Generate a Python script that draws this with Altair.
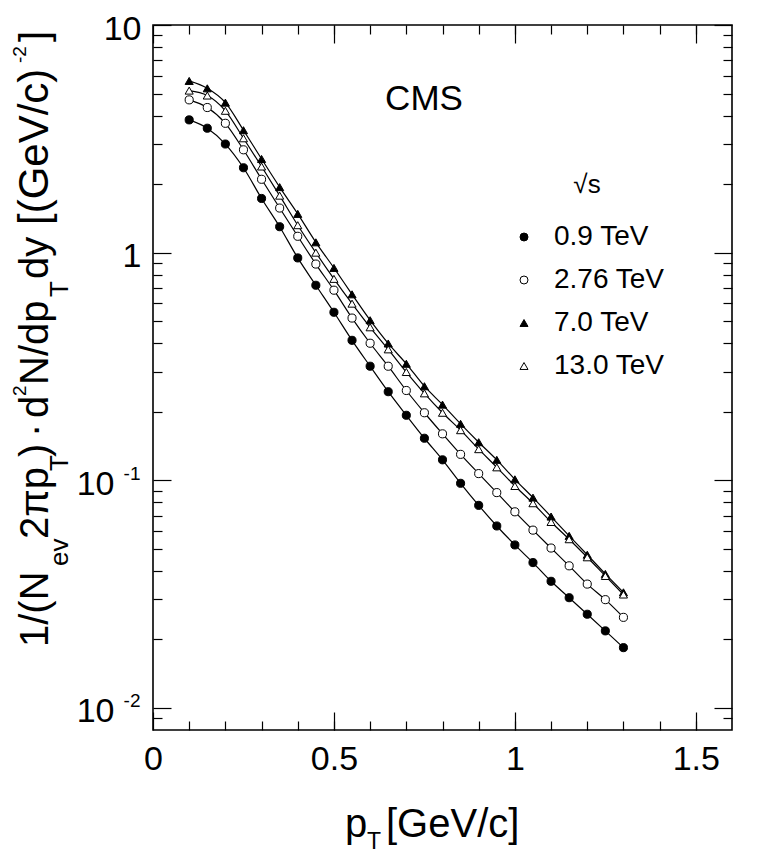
import altair as alt
import pandas as pd

# ---------------- data ----------------
pt = [0.10, 0.15, 0.20, 0.25, 0.30, 0.35, 0.40, 0.45, 0.50, 0.55, 0.60, 0.65,
      0.70, 0.75, 0.80, 0.85, 0.90, 0.95, 1.00, 1.05, 1.10, 1.15, 1.20, 1.25, 1.30]
energies = ["0.9 TeV", "2.76 TeV", "7.0 TeV", "13.0 TeV"]
y_09 = [3.83, 3.52, 3.00, 2.36, 1.73, 1.30, 0.948, 0.719, 0.547, 0.412, 0.317, 0.245,
        0.193, 0.153, 0.123, 0.097, 0.0776, 0.063, 0.052, 0.0435, 0.0360, 0.0305,
        0.0258, 0.0218, 0.0184]
y_276 = [4.69, 4.34, 3.70, 2.83, 2.10, 1.57, 1.18, 0.891, 0.684, 0.516, 0.400, 0.317,
         0.248, 0.198, 0.160, 0.130, 0.107, 0.0883, 0.0727, 0.0604, 0.0504, 0.0421,
         0.0350, 0.0299, 0.0250]
y_70 = [5.68, 5.27, 4.56, 3.45, 2.58, 1.94, 1.48, 1.11, 0.857, 0.656, 0.505, 0.399,
        0.325, 0.259, 0.215, 0.177, 0.147, 0.123, 0.101, 0.0839, 0.0693, 0.0570,
        0.0471, 0.0388, 0.0322]
y_130 = [5.15, 4.90, 4.20, 3.18, 2.39, 1.78, 1.32, 1.00, 0.767, 0.597, 0.470, 0.376,
         0.299, 0.241, 0.198, 0.166, 0.137, 0.114, 0.0944, 0.0793, 0.0656, 0.0551,
         0.0459, 0.0380, 0.0315]
series = [y_09, y_276, y_70, y_130]

x_major = [0, 0.5, 1.0, 1.5]
x_minor = [round(0.1 * i, 1) for i in range(1, 16)]
y_major = [0.01, 0.1, 1, 10]
y_minor = ([0.009] + [round(0.01 * k, 2) for k in range(2, 10)]
           + [round(0.1 * k, 1) for k in range(2, 10)] + list(range(2, 10)))

rows = []
for e, ys in zip(energies, series):
    for x, y in zip(pt, ys):
        rows.append({"pT": x, "val": y, "energy": e})
df = pd.DataFrame(rows)

# ---------------- styling / layout ----------------
FONT = "Liberation Sans"
OX, OY = 153, 25           # page position of the plot origin
W_PLOT, H_PLOT = 579, 705
MAJ, MIN = 18, 9

xs = alt.Scale(domain=[0, 1.6], nice=False, zero=False)
ys_ = alt.Scale(type="log", domain=[0.008, 10], nice=False)


def tick_axis(orient, values, size):
    return alt.Axis(orient=orient, values=values, domain=False, grid=False,
                    ticks=True, tickSize=size, offset=-size, labels=False,
                    tickColor="black", tickWidth=1.2, title=None)


def label_axis(orient, values, pad, expr, fsize=34, loff=0):
    return alt.Axis(orient=orient, values=values, domain=False, grid=False, ticks=False,
                    tickSize=0, labels=True, labelPadding=pad, labelFontSize=fsize,
                    labelFont=FONT, labelColor="black", labelFlush=False,
                    labelOverlap=False, labelOffset=loff, labelExpr=expr, title=None)


def xy(xaxis, yaxis):
    return {"x": alt.X("pT:Q", scale=xs, axis=xaxis),
            "y": alt.Y("val:Q", scale=ys_, axis=yaxis)}


base = alt.Chart(df)

legend = alt.Legend(orient="none", legendX=357, legendY=147, title="√s",
                    titleFont=FONT, titleFontSize=26, titleFontWeight="normal",
                    titleColor="black", titleAnchor="middle", titlePadding=25,
                    labelFont=FONT, labelFontSize=28, labelColor="black",
                    labelOffset=16, symbolSize=64, symbolStrokeWidth=1,
                    rowPadding=15, padding=0)

lines = base.mark_line(color="black", strokeWidth=1.2, interpolate="monotone").encode(
    detail="energy:N",
    **xy(label_axis("bottom", x_major, 12, "format(datum.value, '~g')"),
         label_axis("left", [1, 10], 12, "datum.value >= 10 ? '10' : '1'", loff=4)))

points = base.mark_point(filled=True, size=66, strokeWidth=1, opacity=1).encode(
    shape=alt.Shape("energy:N", sort=energies,
                    scale=alt.Scale(domain=energies,
                                    range=["circle", "circle", "triangle-up", "triangle-up"]),
                    legend=legend),
    fill=alt.Fill("energy:N", sort=energies,
                  scale=alt.Scale(domain=energies,
                                  range=["black", "white", "black", "white"]),
                  legend=legend),
    stroke=alt.Stroke("energy:N", sort=energies,
                      scale=alt.Scale(domain=energies,
                                      range=["black", "black", "black", "black"]),
                      legend=legend),
    **xy(tick_axis("bottom", x_major, MAJ), tick_axis("left", y_major, MAJ)))

inv = dict(opacity=0)
l3 = base.mark_point(**inv).encode(**xy(tick_axis("bottom", x_minor, MIN),
                                        tick_axis("left", y_minor, MIN)))
l4 = base.mark_point(**inv).encode(**xy(tick_axis("top", x_major, MAJ),
                                        tick_axis("right", y_major, MAJ)))
l5 = base.mark_point(**inv).encode(**xy(tick_axis("top", x_minor, MIN),
                                        tick_axis("right", y_minor, MIN)))
l6 = base.mark_point(**inv).encode(
    x=alt.X("pT:Q", scale=xs, axis=None),
    y=alt.Y("val:Q", scale=ys_, axis=label_axis("left", [0.1, 0.01], 39, "'10'", loff=4)))
l7 = base.mark_point(**inv).encode(
    x=alt.X("pT:Q", scale=xs, axis=None),
    y=alt.Y("val:Q", scale=ys_,
            axis=label_axis("left", [0.1, 0.01], 13,
                            "datum.value > 0.05 ? '-1' : '-2'", fsize=19, loff=-7)))


def txt(s, px, py, size, angle=0, align="left"):
    return alt.Chart(alt.Data(values=[{}])).mark_text(
        text=s, font=FONT, fontSize=size, angle=angle, align=align,
        baseline="alphabetic", color="black").encode(
        x=alt.value(px - OX), y=alt.value(py - OY))


# rich-text y title: (text, kind, page y where the piece starts, reading upward)
SZ = {"m": 40, "sub": 26, "sup": 19, "b": 42}
BX = {"m": 48, "sub": 68, "sup": 26, "b": 48}
ytitle = [("1/(N", "m", 647), ("ev", "sub", 566), ("2πp", "m", 539), ("T", "sub", 471),
          (")", "m", 457), ("·", "m", 437), ("d", "m", 418), ("2", "sup", 396),
          ("N/dp", "m", 385), ("T", "sub", 297), ("dy", "m", 279),
          ("[(GeV/c)", "b", 225), ("-2", "sup", 63), ("]", "m", 42)]
title_layers = [txt(s, BX[k], y0, SZ[k], angle=270) for s, k, y0 in ytitle]

xtitle_layers = [txt("p", 345, 837, 40), txt("T", 367, 849, 23),
                 txt("[GeV/c]", 386, 837, 40)]
cms = txt("CMS", 424, 110, 35, align="center")

chart = alt.layer(lines, points, l3, l4, l5, l6, l7, cms,
                  *title_layers, *xtitle_layers).resolve_axis(
    x="independent", y="independent").properties(
    width=W_PLOT, height=H_PLOT,
    autosize=alt.AutoSizeParams(type="none"),
    padding={"left": 145, "top": 17, "right": 20, "bottom": 127},
    background="white",
).configure_view(stroke="black", strokeWidth=1.6)

chart.save("out.html", embed_options={"renderer": "svg", "actions": False})
